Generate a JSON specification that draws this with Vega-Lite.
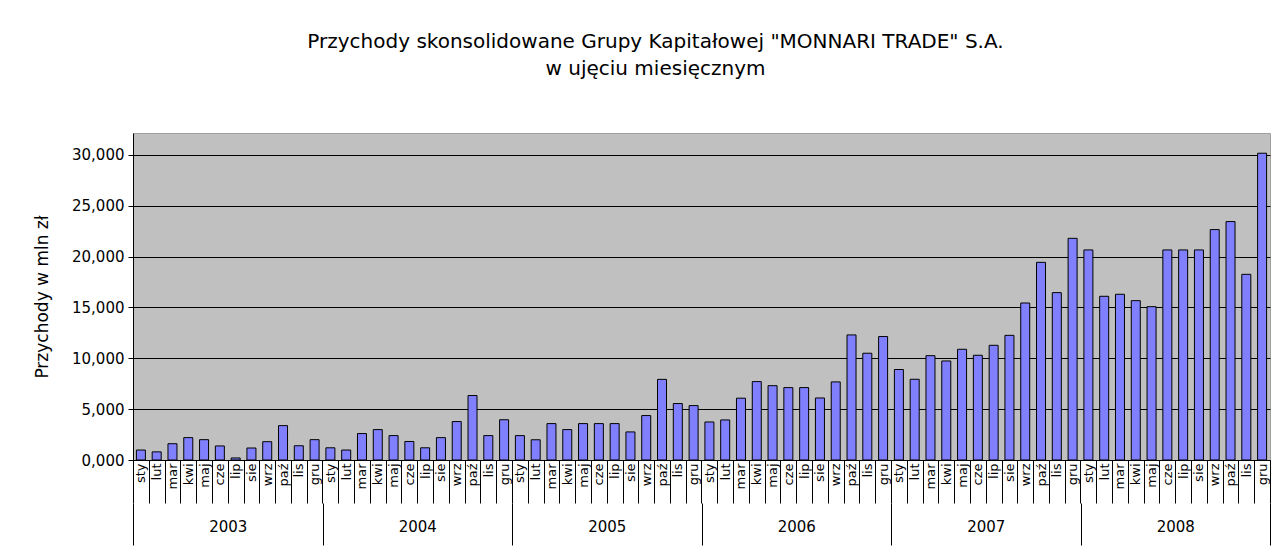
{
  "$schema": "https://vega.github.io/schema/vega-lite/v6.json",
  "width": 1137,
  "height": 327,
  "autosize": "none",
  "padding": {"left": 133, "top": 133, "right": 11, "bottom": 98},
  "background": "white",
  "config": {
    "view": {"fill": "#c0c0c0", "stroke": "#a0a0a0"},
    "font": "DejaVu Sans"
  },
  "title": {
    "text": ["Przychody skonsolidowane Grupy Kapitałowej \"MONNARI TRADE\" S.A.", "w ujęciu miesięcznym"],
    "fontSize": 20,
    "fontWeight": "normal",
    "font": "DejaVu Sans",
    "lineHeight": 27,
    "offset": 54,
    "dx": -46,
    "anchor": "middle",
    "color": "black"
  },
  "data": {
    "values": [
      {"rok": "2003", "okres": "2003 sty", "v": 0.98},
      {"rok": "2003", "okres": "2003 lut", "v": 0.80},
      {"rok": "2003", "okres": "2003 mar", "v": 1.60},
      {"rok": "2003", "okres": "2003 kwi", "v": 2.20},
      {"rok": "2003", "okres": "2003 maj", "v": 2.00},
      {"rok": "2003", "okres": "2003 cze", "v": 1.38},
      {"rok": "2003", "okres": "2003 lip", "v": 0.20},
      {"rok": "2003", "okres": "2003 sie", "v": 1.18},
      {"rok": "2003", "okres": "2003 wrz", "v": 1.80},
      {"rok": "2003", "okres": "2003 paź", "v": 3.38},
      {"rok": "2003", "okres": "2003 lis", "v": 1.40},
      {"rok": "2003", "okres": "2003 gru", "v": 2.00},
      {"rok": "2004", "okres": "2004 sty", "v": 1.20},
      {"rok": "2004", "okres": "2004 lut", "v": 0.98},
      {"rok": "2004", "okres": "2004 mar", "v": 2.60},
      {"rok": "2004", "okres": "2004 kwi", "v": 2.99},
      {"rok": "2004", "okres": "2004 maj", "v": 2.40},
      {"rok": "2004", "okres": "2004 cze", "v": 1.82},
      {"rok": "2004", "okres": "2004 lip", "v": 1.20},
      {"rok": "2004", "okres": "2004 sie", "v": 2.20},
      {"rok": "2004", "okres": "2004 wrz", "v": 3.78},
      {"rok": "2004", "okres": "2004 paź", "v": 6.34},
      {"rok": "2004", "okres": "2004 lis", "v": 2.40},
      {"rok": "2004", "okres": "2004 gru", "v": 3.96},
      {"rok": "2005", "okres": "2005 sty", "v": 2.40},
      {"rok": "2005", "okres": "2005 lut", "v": 1.99},
      {"rok": "2005", "okres": "2005 mar", "v": 3.58},
      {"rok": "2005", "okres": "2005 kwi", "v": 2.99},
      {"rok": "2005", "okres": "2005 maj", "v": 3.58},
      {"rok": "2005", "okres": "2005 cze", "v": 3.58},
      {"rok": "2005", "okres": "2005 lip", "v": 3.58},
      {"rok": "2005", "okres": "2005 sie", "v": 2.76},
      {"rok": "2005", "okres": "2005 wrz", "v": 4.37},
      {"rok": "2005", "okres": "2005 paź", "v": 7.93},
      {"rok": "2005", "okres": "2005 lis", "v": 5.55},
      {"rok": "2005", "okres": "2005 gru", "v": 5.35},
      {"rok": "2006", "okres": "2006 sty", "v": 3.74},
      {"rok": "2006", "okres": "2006 lut", "v": 3.94},
      {"rok": "2006", "okres": "2006 mar", "v": 6.08},
      {"rok": "2006", "okres": "2006 kwi", "v": 7.71},
      {"rok": "2006", "okres": "2006 maj", "v": 7.31},
      {"rok": "2006", "okres": "2006 cze", "v": 7.12},
      {"rok": "2006", "okres": "2006 lip", "v": 7.12},
      {"rok": "2006", "okres": "2006 sie", "v": 6.10},
      {"rok": "2006", "okres": "2006 wrz", "v": 7.68},
      {"rok": "2006", "okres": "2006 paź", "v": 12.30},
      {"rok": "2006", "okres": "2006 lis", "v": 10.50},
      {"rok": "2006", "okres": "2006 gru", "v": 12.14},
      {"rok": "2007", "okres": "2007 sty", "v": 8.90},
      {"rok": "2007", "okres": "2007 lut", "v": 7.94},
      {"rok": "2007", "okres": "2007 mar", "v": 10.26},
      {"rok": "2007", "okres": "2007 kwi", "v": 9.74},
      {"rok": "2007", "okres": "2007 maj", "v": 10.89},
      {"rok": "2007", "okres": "2007 cze", "v": 10.30},
      {"rok": "2007", "okres": "2007 lip", "v": 11.28},
      {"rok": "2007", "okres": "2007 sie", "v": 12.26},
      {"rok": "2007", "okres": "2007 wrz", "v": 15.44},
      {"rok": "2007", "okres": "2007 paź", "v": 19.44},
      {"rok": "2007", "okres": "2007 lis", "v": 16.46},
      {"rok": "2007", "okres": "2007 gru", "v": 21.80},
      {"rok": "2008", "okres": "2008 sty", "v": 20.66},
      {"rok": "2008", "okres": "2008 lut", "v": 16.10},
      {"rok": "2008", "okres": "2008 mar", "v": 16.30},
      {"rok": "2008", "okres": "2008 kwi", "v": 15.67},
      {"rok": "2008", "okres": "2008 maj", "v": 15.08},
      {"rok": "2008", "okres": "2008 cze", "v": 20.66},
      {"rok": "2008", "okres": "2008 lip", "v": 20.66},
      {"rok": "2008", "okres": "2008 sie", "v": 20.66},
      {"rok": "2008", "okres": "2008 wrz", "v": 22.66},
      {"rok": "2008", "okres": "2008 paź", "v": 23.45},
      {"rok": "2008", "okres": "2008 lis", "v": 18.26},
      {"rok": "2008", "okres": "2008 gru", "v": 30.17}
    ]
  },
  "layer": [
    {
      "mark": {"type": "bar", "fill": "#8080ff", "stroke": "black", "strokeWidth": 1, "width": {"band": 0.57}},
      "encoding": {
        "x": {
          "field": "okres",
          "type": "nominal",
          "sort": null,
          "scale": {"paddingInner": 0, "paddingOuter": 0},
          "axis": {
            "title": null,
            "labelExpr": "split(datum.label, ' ')[1]",
            "labelAngle": -90,
            "labelAlign": "right",
            "labelBaseline": "middle",
            "labelFontSize": 13,
            "labelColor": "black",
            "labelPadding": -40,
            "labelOverlap": false,
            "labelBound": false,
            "labelFlush": false,
            "tickBand": "extent",
            "tickSize": 43,
            "tickColor": "black",
            "domainColor": "black"
          }
        },
        "y": {
          "field": "v",
          "type": "quantitative",
          "scale": {"domain": [0, 32.16], "nice": false},
          "axis": {
            "title": "Przychody w mln zł",
            "values": [0, 5, 10, 15, 20, 25, 30],
            "labelExpr": "replace(format(datum.value, '.3f'), '.', ',')",
            "grid": true,
            "gridColor": "black",
            "gridWidth": 1,
            "gridOpacity": 1,
            "domainColor": "black",
            "tickColor": "black",
            "tickSize": 5,
            "labelFontSize": 15,
            "labelColor": "black",
            "labelPadding": 4,
            "titleFontSize": 17,
            "titleFontWeight": "normal",
            "titleColor": "black",
            "titlePadding": 20
          }
        }
      }
    },
    {
      "mark": {"type": "rule", "opacity": 0},
      "encoding": {
        "x": {
          "field": "rok",
          "type": "nominal",
          "scale": {"type": "band", "paddingInner": 0, "paddingOuter": 0},
          "axis": {
            "title": null,
            "orient": "bottom",
            "offset": 43,
            "labelAngle": 0,
            "labelAlign": "center",
            "labelBaseline": "top",
            "tickBand": "extent",
            "tickSize": 42,
            "tickColor": "black",
            "domain": false,
            "labelPadding": -26,
            "labelFontSize": 15,
            "labelColor": "black"
          }
        }
      }
    }
  ],
  "resolve": {"scale": {"x": "independent"}, "axis": {"x": "independent"}}
}
